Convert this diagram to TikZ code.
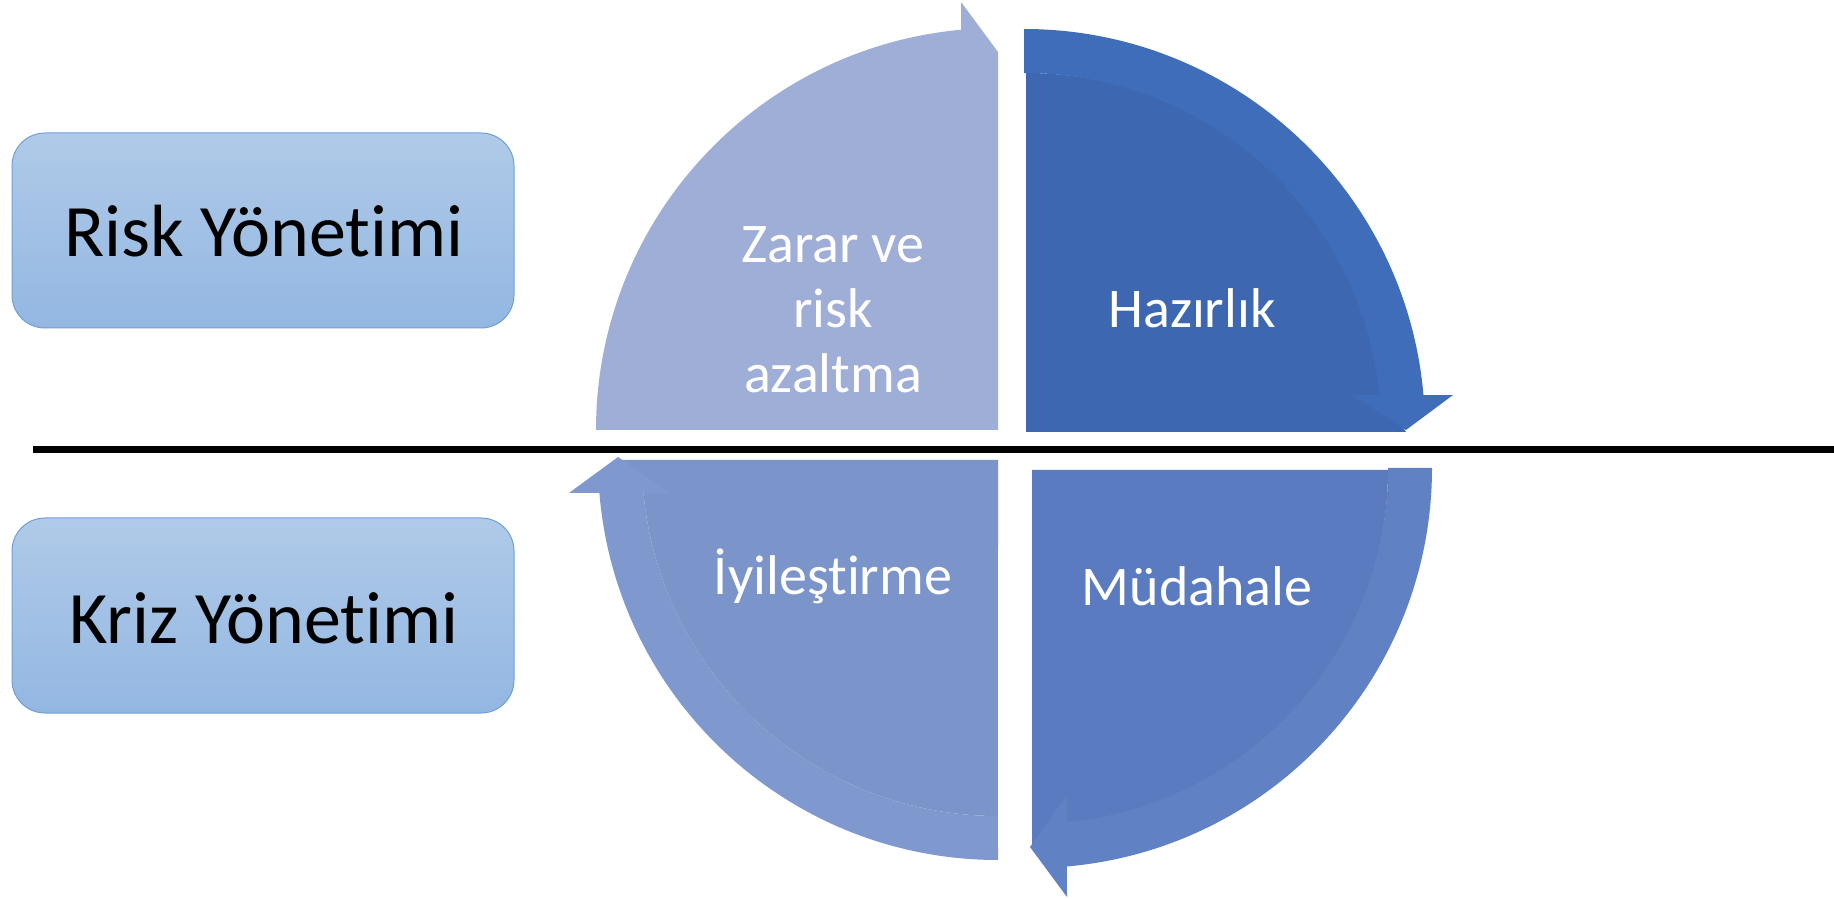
\documentclass[tikz,border=0pt]{standalone}
\usepackage{fontspec}
\setmainfont[Ligatures={NoCommon}]{Carlito}
\definecolor{tlbody}{HTML}{9FAED7}
\definecolor{tlband}{HTML}{A1B0D9}
\definecolor{trbody}{HTML}{3D67B0}
\definecolor{trband}{HTML}{3F6DBA}
\definecolor{blbody}{HTML}{7B94CA}
\definecolor{blband}{HTML}{7F98CE}
\definecolor{brbody}{HTML}{5B7BC1}
\definecolor{brband}{HTML}{6081C4}
\definecolor{boxtop}{HTML}{B0CAE8}
\definecolor{boxbot}{HTML}{93B7E2}
\definecolor{boxline}{HTML}{6FA0D8}
\tikzset{
  mgmtbox/.style={rounded corners=33pt, top color=boxtop, bottom color=boxbot, draw=boxline, line width=1pt},
  boxtext/.style={font=\fontsize{74}{80}\selectfont, text=black, anchor=base, inner sep=0pt},
  phasetext/.style={font=\fontsize{56}{65}\selectfont, text=white, inner sep=0pt, align=center},
}
\begin{document}
\begin{tikzpicture}[x=1pt,y=1pt]
\useasboundingbox (0,0) rectangle (1834,898);
% top-left quarter: Zarar ve risk azaltma
\fill[tlbody] (596,468) arc[start angle=180, end angle=95.28, radius=402] -- (961,896) -- (998,846) -- (998,468) -- cycle;
% top-right quarter: Hazirlik
\fill[trbody] (1026,466) -- (1026,825) arc[start angle=90, end angle=5.63, radius=357] -- (1406,466) -- cycle;
\fill[trband] (1024,869) arc[start angle=90, end angle=5, radius=401] -- (1453,503) -- (1406,468) -- (1352,503) -- (1379.3,503) arc[start angle=5.63, end angle=90, radius=357] -- cycle;
% bottom-left quarter: Iyilestirme
\fill[blbody] (998,438) -- (620,438) -- (643.5,405) arc[start angle=185.32, end angle=270, radius=356] -- cycle;
\fill[blband] (599.4,405) -- (569,405) -- (618,441) -- (670,405) -- (643.5,405) arc[start angle=185.32, end angle=270, radius=356] -- (998,38) arc[start angle=270, end angle=184.73, radius=400] -- cycle;
% bottom-right quarter: Mudahale
\fill[brbody] (1032,428) -- (1388,428) arc[start angle=0, end angle=-84.36, radius=356] -- (1032,51) -- cycle;
\fill[brband] (1388,430) -- (1432,430) arc[start angle=0, end angle=-85, radius=400] -- (1067,1) -- (1030,51) -- (1067,103) -- (1067,75.8) arc[start angle=-84.36, end angle=0, radius=356] -- cycle;
% divider
\coordinate (lineL) at (33,448.5);
\coordinate (lineR) at (1834,448.5);
\draw[line width=7pt, black] (lineL) -- (lineR);
% management boxes
\draw[mgmtbox] (12,570) rectangle (514,765);
\draw[mgmtbox] (12,185) rectangle (514,380);
\node[boxtext] (risk) at (264,641) {Risk Yönetimi};
\node[boxtext] (kriz) at (264,255) {Kriz Yönetimi};
% phase labels
\node[phasetext, anchor=center] (zarar) at (833,588) {Zarar ve\\risk\\azaltma};
\node[phasetext, anchor=base] (hazir) at (1192,570) {Hazırlık};
\node[phasetext, anchor=base] (iyi) at (833,304) {İyileştirme};
\node[phasetext, anchor=base] (mud) at (1197,293) {Müdahale};
\end{tikzpicture}
\end{document}
